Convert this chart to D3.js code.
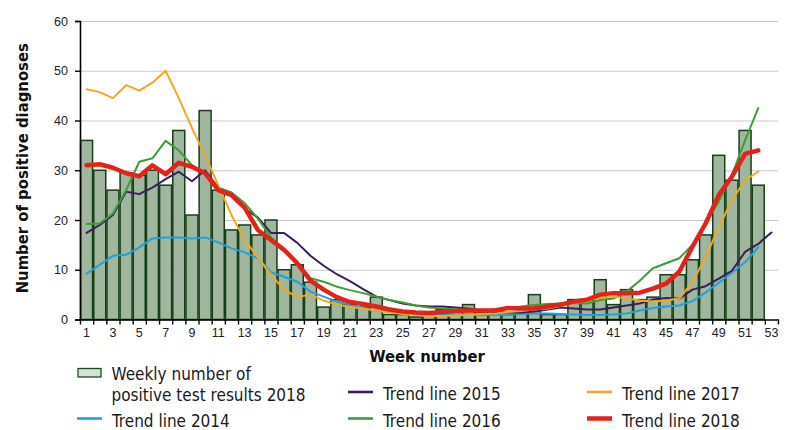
<!DOCTYPE html>
<html>
<head>
<meta charset="utf-8">
<script src="https://cdn.jsdelivr.net/npm/d3@7/dist/d3.min.js"></script>
<style>
  body { margin: 0; background: #fff; }
  svg { font-family: "DejaVu Sans Condensed", "DejaVu Sans", sans-serif; font-stretch: condensed; }
  .axis text { font-size: 12.5px; fill: #222; }
  .grid line { stroke: #c8c8c8; stroke-width: 1.2; }
  .grid path { display: none; }
</style>
</head>
<body>
<div id="chart"></div>
<script>
'use strict';

// weekly number of positive test results 2018 (weeks 1..52)
var bars2018 = [36, 30, 26, 29.5, 29, 30, 27, 38, 21, 42, 26, 18, 19, 17, 20, 10, 11, 7.5, 2.5, 4,
  3, 2.5, 4.5, 1, 1, 0.5, 1.5, 2, 1, 3, 1.5, 1, 1, 1.5, 5, 1, 1, 4, 4, 8,
  3, 6, 4, 4.5, 9, 9, 12, 17, 33, 28, 38, 27];

var trend2014 = [9.2, 11, 12.8, 13, 14.5, 16.3, 16.5, 16.5, 16.3, 16.5, 15.5, 14.3, 13.5, 12.3, 9.5, 8.6, 7.6, 5.6, 4.6, 3.6,
  2.9, 2.3, 1.8, 1.5, 1.3, 1.2, 1.1, 1.1, 1.0, 1.0, 0.9, 0.9, 1.0, 1.1, 1.2, 1.2, 1.1, 1.0, 0.9, 0.9,
  1.0, 1.2, 1.8, 2.3, 2.6, 2.8, 3.7, 5.4, 7.4, 9.4, 11.5, 14.5];

var trend2015 = [17.4, 19, 21, 25.7, 25.2, 26.5, 28.2, 29.7, 27.8, 30, 26.5, 25.5, 22.3, 20.5, 17.4, 17.4, 15.4, 12.8, 10.8, 9.1,
  7.7, 6.1, 4.6, 3.9, 3.2, 2.8, 2.6, 2.6, 2.4, 2.2, 1.8, 1.5, 1.4, 1.4, 1.6, 2.0, 2.4, 2.2, 2.0, 2.0,
  2.4, 2.8, 3.2, 4.0, 4.3, 4.2, 6.0, 6.7, 8.2, 9.8, 13.6, 15.2, 17.5];

var trend2016 = [19.2, 19.3, 21.3, 26, 31.7, 32.4, 35.9, 34, 31, 29.5, 26.5, 25.5, 23.4, 20.3, 16.5, 14, 11.3, 8.3, 7.6, 6.6,
  5.9, 5.3, 4.6, 3.9, 3.4, 2.8, 2.4, 2.2, 2.0, 1.9, 1.8, 2.0, 2.2, 2.6, 2.9, 3.1, 3.2, 3.3, 3.2, 3.9,
  4.2, 5.6, 7.8, 10.3, 11.3, 12.3, 15, 19.5, 23.7, 29, 36, 42.5];

var trend2017 = [46.3, 45.7, 44.5, 47.1, 46, 47.6, 50, 44.5, 38.5, 33, 27, 21, 16, 12.5, 9, 6, 4.5, 5, 3.8, 3,
  2.5, 2.2, 1.8, 1.4, 1.1, 0.9, 0.7, 0.7, 0.8, 0.9, 1.1, 1.2, 1.5, 1.7, 2.0, 2.2, 2.7, 3.3, 3.8, 4.3,
  4.6, 4.2, 3.8, 3.6, 3.8, 4.2, 7.5, 12.5, 18.5, 24, 28, 29.7];

var trend2018 = [31, 31.2, 30.5, 29.4, 28.8, 31, 29.2, 31.5, 30.7, 29.4, 26, 25, 22.5, 18, 16, 14, 11.3, 7.8, 6, 4.5,
  3.5, 3.1, 2.6, 2.0, 1.6, 1.4, 1.3, 1.5, 1.7, 1.8, 1.8, 1.8, 2.3, 2.2, 2.2, 2.6, 3.0, 3.6, 4.0, 5.0,
  5.3, 5.3, 5.4, 6.2, 7.2, 9.6, 14.6, 19.3, 25, 28.7, 33.3, 34];

var yTicks = [0, 10, 20, 30, 40, 50, 60];
var weeks = d3.range(1, 54);
var weekLabels = weeks.filter(function(w) { return w % 2 === 1; });

var series = [
  { name: 'Trend line 2014', values: trend2014, color: '#22a0da', width: 2 },
  { name: 'Trend line 2015', values: trend2015, color: '#3b1d5e', width: 2 },
  { name: 'Trend line 2016', values: trend2016, color: '#3a9f36', width: 2 },
  { name: 'Trend line 2017', values: trend2017, color: '#f1a923', width: 2 },
  { name: 'Trend line 2018', values: trend2018, color: '#e3231b', width: 4.5 }
];

var margins = { left: 80, top: 21, right: 7, bottom: 110.5 };
var width = 785 - margins.left - margins.right;
var height = 430 - margins.top - margins.bottom;

var svg = d3.select('#chart').append('svg')
  .attr('width', 785)
  .attr('height', 430);

var chart = svg.append('g')
  .attr('transform', 'translate(' + margins.left + ',' + margins.top + ')');

var x = d3.scaleBand().domain(weeks).range([0, width]).padding(0);
var xEdge = d3.scaleLinear().domain([0, 53]).range([0, width]);
var y = d3.scaleLinear().domain([0, 60]).range([height, 0]);

// grid
chart.append('g')
  .attr('class', 'grid')
  .call(d3.axisLeft(y).tickValues(yTicks.slice(1)).tickSize(-width).tickFormat(''));

// bars
chart.selectAll('.bar')
  .data(bars2018)
  .enter()
  .append('rect')
  .attr('class', 'bar')
  .attr('x', function(d, i) { return x(i + 1) + 0.6; })
  .attr('width', x.bandwidth() - 1.2)
  .attr('y', function(d) { return y(d); })
  .attr('height', function(d) { return height - y(d); })
  .style('fill', '#a1b69e')
  .style('stroke', '#163f17')
  .style('stroke-width', 1.5);

// trend lines
var line = d3.line()
  .x(function(d, i) { return x(i + 1) + x.bandwidth() / 2; })
  .y(function(d) { return y(d); });

chart.selectAll('.trend')
  .data(series)
  .enter()
  .append('path')
  .attr('class', 'trend')
  .attr('d', function(s) { return line(s.values); })
  .style('fill', 'none')
  .style('stroke', function(s) { return s.color; })
  .style('stroke-width', function(s) { return s.width; })
  .style('stroke-linejoin', 'round')
  .style('stroke-linecap', 'round');

// axes
var yAxis = chart.append('g')
  .attr('class', 'axis')
  .call(d3.axisLeft(y).tickValues(yTicks).tickSize(5).tickPadding(7));
yAxis.select('.domain').attr('stroke', '#000').attr('stroke-width', 1.6);
yAxis.selectAll('line').attr('stroke', '#000').attr('stroke-width', 1.4);

var xTicks = chart.append('g')
  .attr('class', 'axis')
  .attr('transform', 'translate(0,' + height + ')')
  .call(d3.axisBottom(xEdge).tickValues(d3.range(0, 54)).tickSize(5).tickSizeOuter(0).tickFormat(''));
xTicks.select('.domain').attr('stroke', '#000').attr('stroke-width', 1.6);
xTicks.selectAll('line').attr('stroke', '#000').attr('stroke-width', 1.4);

var xLabels = chart.append('g')
  .attr('class', 'axis')
  .attr('transform', 'translate(0,' + height + ')')
  .call(d3.axisBottom(x).tickValues(weekLabels).tickSize(0).tickPadding(9));
xLabels.select('.domain').remove();

// axis titles
svg.append('text')
  .attr('transform', 'translate(28,' + (margins.top + height / 2 - 2) + ') rotate(-90)')
  .style('text-anchor', 'middle')
  .style('font-weight', 'bold')
  .style('font-size', '16.5px')
  .style('fill', '#111')
  .text('Number of positive diagnoses');

svg.append('text')
  .attr('x', margins.left + width / 2 - 2)
  .attr('y', 361.5)
  .style('text-anchor', 'middle')
  .style('font-weight', 'bold')
  .style('font-size', '16.5px')
  .style('fill', '#111')
  .text('Week number');

// legend
var legend = svg.append('g').attr('class', 'legend').style('font-size', '17px').style('fill', '#1a1a1a');

legend.append('rect')
  .attr('x', 78).attr('y', 368.5).attr('width', 23).attr('height', 8.5)
  .style('fill', '#d4e4d2').style('stroke', '#1b4a1c').style('stroke-width', 1.3);
legend.append('text').attr('x', 111.5).attr('y', 379.5).text('Weekly number of');
legend.append('text').attr('x', 111.5).attr('y', 401).text('positive test results 2018');

var legendPos = [
  { x: 77, y: 418.5 },
  { x: 348, y: 392 },
  { x: 348, y: 418.5 },
  { x: 587, y: 392 },
  { x: 587, y: 418.5 }
];

var item = legend.selectAll('.item')
  .data(series)
  .enter()
  .append('g')
  .attr('class', 'item')
  .attr('transform', function(d, i) { return 'translate(' + legendPos[i].x + ',' + legendPos[i].y + ')'; });

item.append('line')
  .attr('x1', 0).attr('x2', 25)
  .style('stroke', function(d) { return d.color; })
  .style('stroke-width', function(d) { return d.width === 2 ? 2.6 : 4.5; });

item.append('text')
  .attr('x', 35)
  .attr('y', 8)
  .text(function(d) { return d.name; });
</script>
</body>
</html>
